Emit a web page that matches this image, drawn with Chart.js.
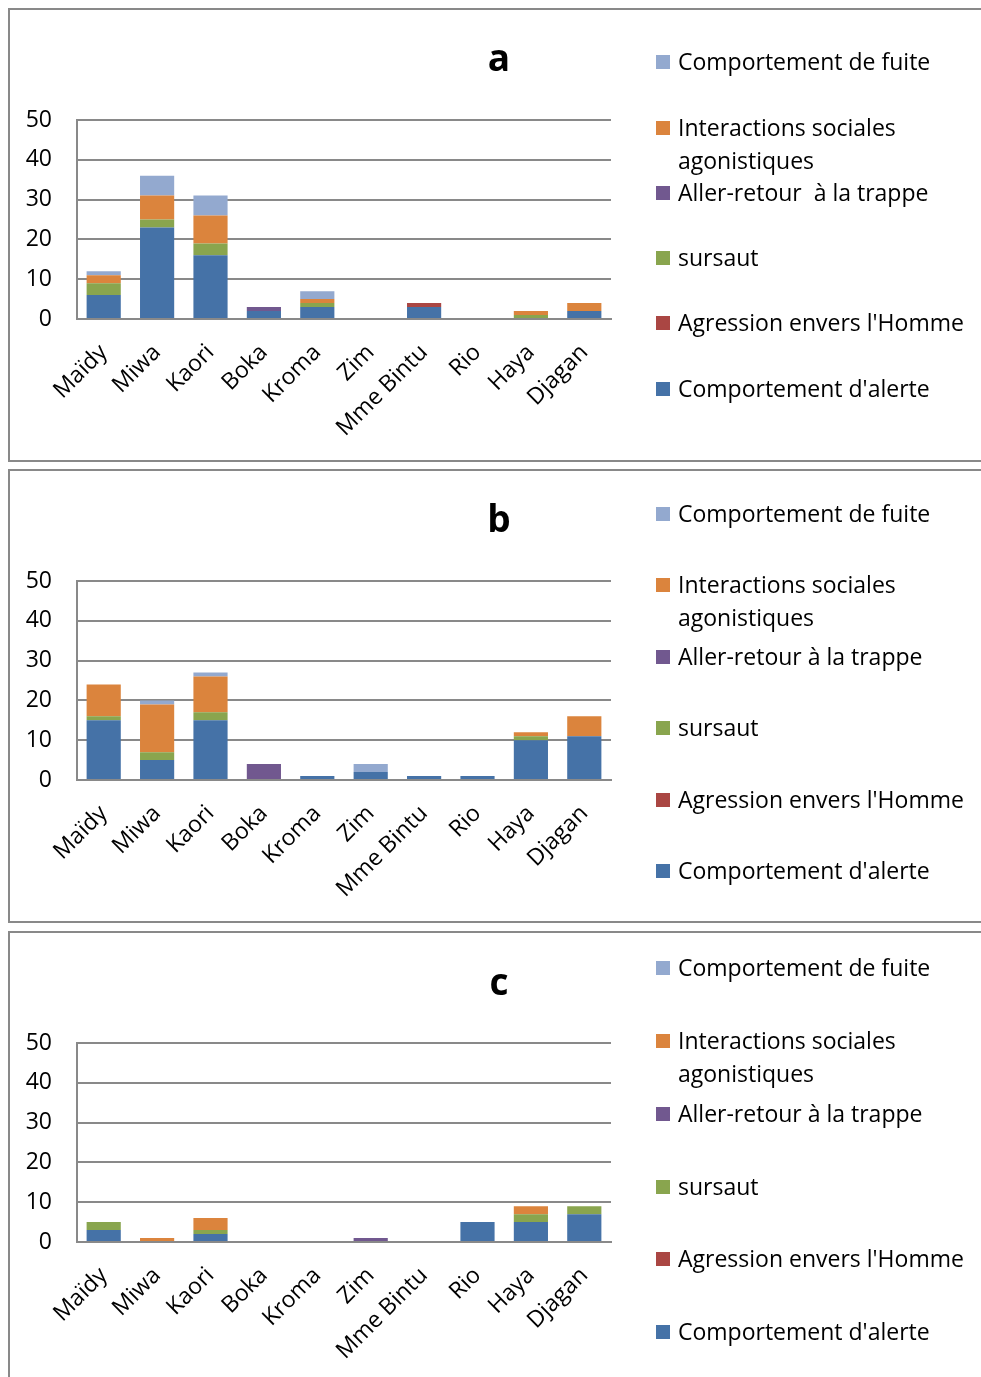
<!DOCTYPE html>
<html>
<head>
<meta charset="utf-8">
<script src="https://cdn.jsdelivr.net/npm/chart.js@4.4.1/dist/chart.umd.min.js"></script>
<style>
  html, body { margin: 0; padding: 0; background: #fff; width: 981px; height: 1377px; overflow: hidden; }
  .panel { position: absolute; left: 8px; width: 1000px; height: 450px; border: 2px solid #898989; background: #fff; }
  .panel canvas { position: absolute; left: 0; top: 0; }
</style>
</head>
<body>
<div class="panel" style="top:8px"><canvas id="chartA" width="971" height="450"></canvas></div>
<div class="panel" style="top:469px"><canvas id="chartB" width="971" height="450"></canvas></div>
<div class="panel" style="top:931px"><canvas id="chartC" width="971" height="450"></canvas></div>
<script>
// Individuals (x categories)
const categories = ['Maïdy', 'Miwa', 'Kaori', 'Boka', 'Kroma', 'Zim', 'Mme Bintu', 'Rio', 'Haya', 'Djagan'];
const yTicks = [0, 10, 20, 30, 40, 50];

// Panel a
const alerteA       = [6, 23, 16, 2, 3, 0, 3, 0, 0, 2];
const agressionA    = [0, 0, 0, 0, 0, 0, 1, 0, 0, 0];
const sursautA      = [3, 2, 3, 0, 1, 0, 0, 0, 1, 0];
const allerRetourA  = [0, 0, 0, 1, 0, 0, 0, 0, 0, 0];
const interactionsA = [2, 6, 7, 0, 1, 0, 0, 0, 1, 2];
const fuiteA        = [1, 5, 5, 0, 2, 0, 0, 0, 0, 0];

// Panel b
const alerteB       = [15, 5, 15, 0, 1, 2, 1, 1, 10, 11];
const agressionB    = [0, 0, 0, 0, 0, 0, 0, 0, 0, 0];
const sursautB      = [1, 2, 2, 0, 0, 0, 0, 0, 1, 0];
const allerRetourB  = [0, 0, 0, 4, 0, 0, 0, 0, 0, 0];
const interactionsB = [8, 12, 9, 0, 0, 0, 0, 0, 1, 5];
const fuiteB        = [0, 1, 1, 0, 0, 2, 0, 0, 0, 0];

// Panel c
const alerteC       = [3, 0, 2, 0, 0, 0, 0, 5, 5, 7];
const agressionC    = [0, 0, 0, 0, 0, 0, 0, 0, 0, 0];
const sursautC      = [2, 0, 1, 0, 0, 0, 0, 0, 2, 2];
const allerRetourC  = [0, 0, 0, 0, 0, 1, 0, 0, 0, 0];
const interactionsC = [0, 1, 3, 0, 0, 0, 0, 0, 2, 0];
const fuiteC        = [0, 0, 0, 0, 0, 0, 0, 0, 0, 0];

// Series labels, bottom of the stack first
const labelsAB = ["Comportement d'alerte", "Agression envers l'Homme", 'sursaut', 'Aller-retour  à la trappe', 'Interactions sociales\nagonistiques', 'Comportement de fuite'];
const labelsBC = ["Comportement d'alerte", "Agression envers l'Homme", 'sursaut', 'Aller-retour à la trappe', 'Interactions sociales\nagonistiques', 'Comportement de fuite'];
const colors = ['#4572A7', '#AA4643', '#89A54E', '#71588F', '#DB843D', '#93A9CF'];

const FONT = '"Open Sans", Lato, sans-serif';
const TEXT_SIZE = 23;

// Legend + panel letter, drawn at fixed spots on the right of each panel
const sideLegend = {
  id: 'sideLegend',
  afterDraw(chart, args, opts) {
    const ctx = chart.ctx;
    ctx.save();
    ctx.fillStyle = '#000';
    ctx.font = 'bold 37px ' + FONT;
    ctx.textAlign = 'center';
    ctx.textBaseline = 'middle';
    ctx.fillText(opts.letter, 489, opts.letterY);

    ctx.font = TEXT_SIZE + 'px ' + FONT;
    ctx.textAlign = 'left';
    const ds = chart.data.datasets.slice().reverse();
    ds.forEach((d, i) => {
      const y = opts.rows[i];
      ctx.fillStyle = d.backgroundColor;
      ctx.fillRect(646, y - 7, 14, 14);
      ctx.fillStyle = '#000';
      d.label.split('\n').forEach((line, k) => {
        ctx.fillText(line, 668, y + 1 + k * opts.lineGap);
      });
    });
    ctx.restore();
  }
};

function makeChart(id, series, labels, letter, letterY, rows) {
  const datasets = series.map((vals, i) => ({
    label: labels[i],
    data: vals.map(v => v === 0 ? null : v),
    backgroundColor: colors[i],
    borderWidth: 0,
    categoryPercentage: 1.0,
    barPercentage: 0.64
  }));
  return new Chart(document.getElementById(id), {
    type: 'bar',
    data: { labels: categories, datasets },
    plugins: [sideLegend],
    options: {
      responsive: false,
      animation: false,
      devicePixelRatio: 1,
      layout: { padding: { left: 0, top: 110, right: 370, bottom: 6 } },
      plugins: {
        legend: { display: false },
        tooltip: { enabled: false },
        sideLegend: { letter, letterY, rows, lineGap: 33 }
      },
      scales: {
        x: {
          stacked: true,
          grid: { display: false, drawTicks: false },
          border: { display: true, color: '#898989', width: 2 },
          ticks: {
            autoSkip: false, minRotation: 45, maxRotation: 45,
            color: '#000', font: { family: FONT, size: TEXT_SIZE }, padding: 20
          },
          afterFit(scale) { scale.height = 135; }
        },
        y: {
          stacked: true,
          min: 0, max: 50,
          afterBuildTicks(scale) { scale.ticks = yTicks.map(v => ({ value: v })); },
          grid: { color: '#898989', lineWidth: 2, drawTicks: false },
          border: { display: true, color: '#898989', width: 2 },
          ticks: { color: '#000', font: { family: FONT, size: TEXT_SIZE }, padding: 25 },
          afterFit(scale) { scale.width = 67; }
        }
      }
    }
  });
}

makeChart('chartA', [alerteA, agressionA, sursautA, allerRetourA, interactionsA, fuiteA], labelsAB, 'a', 50, [52, 118, 183, 248, 313, 379]);
makeChart('chartB', [alerteB, agressionB, sursautB, allerRetourB, interactionsB, fuiteB], labelsBC, 'b', 50, [43, 114, 186, 257, 329, 400]);
makeChart('chartC', [alerteC, agressionC, sursautC, allerRetourC, interactionsC, fuiteC], labelsBC, 'c', 51, [35, 108, 181, 254, 326, 399]);
</script>
</body>
</html>
